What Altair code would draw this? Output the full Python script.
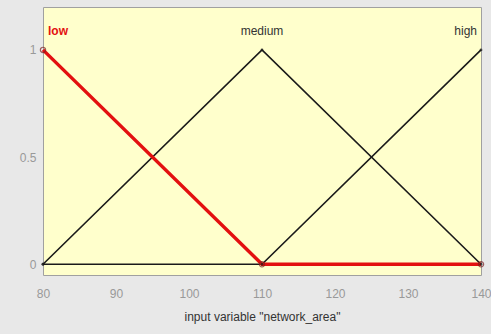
import altair as alt
import pandas as pd

# membership function vertices
mf_names = ["low", "medium", "high"]
mf_x = [[80, 110, 140], [80, 110, 140], [80, 110, 140]]
mf_y = [[1, 0, 0], [0, 1, 0], [0, 0, 1]]
label_x = [80, 110, 140]
label_y = [1.09, 1.09, 1.09]
x_ticks = [80, 90, 100, 110, 120, 130, 140]
y_ticks = [0, 0.5, 1]

rows = []
for name, xs, ys in zip(mf_names, mf_x, mf_y):
    for i, (xv, yv) in enumerate(zip(xs, ys)):
        rows.append({"mf": name, "x": xv, "y": yv, "order": i})
df = pd.DataFrame(rows)
labels = pd.DataFrame({"mf": mf_names, "x": label_x, "y": label_y})

FONT = "Liberation Sans"
xs = alt.Scale(domain=[80, 140], nice=False, zero=False)
ys = alt.Scale(domain=[-0.05, 1.2], nice=False, zero=False)

xenc = alt.X("x:Q", scale=xs, axis=alt.Axis(
    values=x_ticks, title='input variable "network_area"', domain=False, ticks=False,
    grid=False, labelColor="#999999", labelFontSize=12, labelPadding=13, labelFont=FONT,
    titleColor="#333333", titleFontSize=12, titleFont=FONT, titleFontWeight="normal",
    titlePadding=12, labelFlush=False))
yenc = alt.Y("y:Q", scale=ys, axis=alt.Axis(
    values=y_ticks, title=None, domain=False, ticks=False, grid=False,
    labelExpr="toString(datum.value)",
    labelColor="#999999", labelFontSize=12, labelPadding=7, labelFont=FONT))

base = alt.Chart(df)
black = base.transform_filter(alt.datum.mf != "low").mark_line(
    color="#1a1a1a", strokeWidth=1.6).encode(x=xenc, y=yenc, detail="mf:N", order="order:Q")
red = base.transform_filter(alt.datum.mf == "low").mark_line(
    color="#e31010", strokeWidth=3.4).encode(x="x:Q", y="y:Q", order="order:Q")
pts = base.transform_filter(alt.datum.mf == "low").mark_point(
    shape="circle", size=28, filled=False, color="#7a2020", strokeWidth=1.2).encode(x="x:Q", y="y:Q")
dots = base.transform_filter(alt.datum.mf != "low").mark_point(
    shape="circle", size=8, filled=True, color="#1a1a1a").encode(x="x:Q", y="y:Q")

lab = alt.Chart(labels)
t_low = lab.transform_filter(alt.datum.mf == "low").mark_text(
    align="left", dx=5, font=FONT, fontSize=12, fontWeight="bold", color="#e31010").encode(
    x="x:Q", y="y:Q", text="mf:N")
t_med = lab.transform_filter(alt.datum.mf == "medium").mark_text(
    align="center", font=FONT, fontSize=12, color="#333333").encode(
    x="x:Q", y="y:Q", text="mf:N")
t_high = lab.transform_filter(alt.datum.mf == "high").mark_text(
    align="right", dx=-4, font=FONT, fontSize=12, color="#333333").encode(
    x="x:Q", y="y:Q", text="mf:N")

chart = alt.layer(black, red, dots, pts, t_low, t_med, t_high).properties(
    width=438, height=268,
    autosize=alt.AutoSizeParams(type="none"),
    padding={"left": 43, "top": 7, "right": 10, "bottom": 59},
    background="#e8e8e8",
).configure_view(fill="#ffffcc", stroke="#a0a0a0", strokeWidth=1)

chart.save("out.html", embed_options={"renderer": "svg", "actions": False})
